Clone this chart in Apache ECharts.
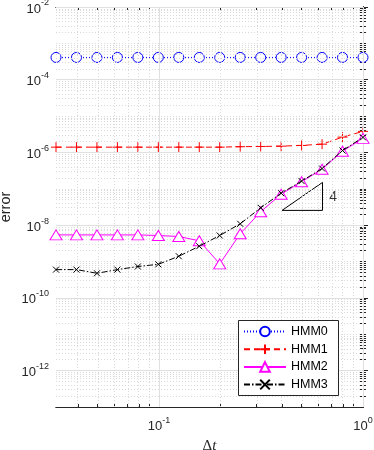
<!DOCTYPE html>
<html>
<head>
<meta charset="utf-8">
<script src="https://cdn.jsdelivr.net/npm/echarts@6/dist/echarts.min.js"></script>
<style>
  html, body { margin: 0; padding: 0; background: #fff; }
  #chart { width: 374px; height: 450px; }
</style>
</head>
<body>
<div id="chart"></div>
<script>
// time steps (dt = 2^(-k/3))
var dt = [0.03125, 0.03937, 0.04961, 0.0625, 0.07875, 0.09921, 0.125, 0.1575,
  0.1984, 0.25, 0.315, 0.3969, 0.5, 0.63, 0.7937, 1]
var hmm0 = [4.1e-4, 4.1e-4, 4.1e-4, 4.1e-4, 4.1e-4, 4.1e-4, 4.1e-4, 4.1e-4,
  4.1e-4, 4.1e-4, 4.1e-4, 4.1e-4, 4.1e-4, 4.1e-4, 4.1e-4, 4.1e-4]
var hmm1 = [1.40e-6, 1.40e-6, 1.40e-6, 1.40e-6, 1.40e-6, 1.40e-6, 1.40e-6, 1.40e-6,
  1.40e-6, 1.44e-6, 1.46e-6, 1.49e-6, 1.56e-6, 1.69e-6, 2.64e-6, 3.8e-6]
var hmm2 = [5.4e-9, 5.4e-9, 5.4e-9, 5.4e-9, 5.4e-9, 5.2e-9, 4.89e-9, 3.72e-9,
  8.65e-10, 5.8e-9, 2.35e-8, 7.1e-8, 1.56e-7, 3.46e-7, 1.08e-6, 2.44e-6]
var hmm3 = [6.0e-10, 6.0e-10, 4.76e-10, 6.0e-10, 7.3e-10, 8.4e-10, 1.40e-9, 2.64e-9,
  5.2e-9, 1.09e-8, 3.0e-8, 7.57e-8, 1.63e-7, 3.61e-7, 1.13e-6, 2.6e-6]
var seriesNames = ['HMM0', 'HMM1', 'HMM2', 'HMM3']
// slope triangle and its label
var slopeX = [0.401, 0.633, 0.633, 0.401]
var slopeY = [2.55e-8, 2.55e-8, 1.5e-7, 2.55e-8]
var slopeLabel = '4'
var slopeLabelPos = [0.714, 5.9e-8]
// axis ranges and labelled ticks (powers of ten)
var xRange = [0.03125, 1]
var yRange = [1e-13, 1e-2]
var xTickExp = [-1, 0]
var yTickExp = [-12, -10, -8, -6, -4, -2]

var FONT = 'Liberation Sans, Arial, Helvetica, sans-serif'
var AX = '#262626'
var lg = function (v) { return Math.log10(v) }

// open marker shapes (thin outline, white fill)
var CIRCLE = 'path://M10,5A5,5,0,1,1,0,5A5,5,0,1,1,10,5Z'
var TRIANGLE = 'path://M5,0L10,9L0,9Z'
var PLUS = 'path://M0,5L10,5M5,0L5,10'
var CROSS = 'path://M0,0L10,10M0,10L10,0'

function zip(xs, ys) {
  return xs.map(function (x, i) { return [lg(x), lg(ys[i])] })
}

function expLabel(v) {
  var e = Math.round(v)
  if (Math.abs(v - e) > 1e-6) return ''
  return '{b|10}{s|' + e + '}'
}

var labelRich = {
  b: { fontSize: 13, fontFamily: FONT, color: AX, padding: [4, 0, 0, 0] },
  s: { fontSize: 9, fontFamily: FONT, color: AX, verticalAlign: 'top' }
}

// log-scale grid / tick positions (in exponent units)
var lo = { x: lg(xRange[0]), y: lg(yRange[0]) }
var hi = { x: lg(xRange[1]), y: lg(yRange[1]) }
function decades(a, b) {
  var major = []
  var minor = []
  for (var d = Math.floor(a); d < Math.ceil(b) + 1; d++) {
    if (d >= a - 1e-9 && d <= b + 1e-9) major.push(d)
    for (var m = 2; m <= 9; m++) {
      var v = d + Math.log10(m)
      if (v > a + 1e-9 && v < b - 1e-9) minor.push(v)
    }
  }
  return { major: major, minor: minor }
}
var gx = decades(lo.x, hi.x)
var gy = decades(lo.y, hi.y)
// odd decades on y behave as minor lines
var yMinorAll = gy.minor.concat(gy.major.filter(function (e) { return yTickExp.indexOf(e) < 0 && e > lo.y && e < hi.y }))

var chart = echarts.init(document.getElementById('chart'), null, { renderer: 'canvas' })

function xAx(pos, ticks, len, extra) {
  return Object.assign({
    type: 'value',
    position: pos,
    min: lo.x,
    max: hi.x,
    axisLine: { show: true, lineStyle: { color: AX, width: 1 } },
    axisTick: { show: true, inside: true, length: len, customValues: ticks, lineStyle: { color: AX } },
    axisLabel: { show: false },
    splitLine: { show: false }
  }, extra || {})
}
function yAx(pos, ticks, len, extra) {
  return Object.assign({
    type: 'value',
    position: pos,
    min: lo.y,
    max: hi.y,
    axisLine: { show: true, lineStyle: { color: AX, width: 1 } },
    axisTick: { show: true, inside: true, length: len, customValues: ticks, lineStyle: { color: AX } },
    axisLabel: { show: false },
    splitLine: { show: false }
  }, extra || {})
}

var option = {
  animation: false,
  backgroundColor: '#fff',
  grid: { left: 56, right: 11, top: 7, bottom: 43, containLabel: false, outerBoundsMode: 'none' },
  // legend frame
  graphic: [{
    type: 'rect',
    z: 50,
    shape: { x: 238.5, y: 320.5, width: 100, height: 75 },
    style: { fill: '#fff', stroke: AX, lineWidth: 1 }
  }],
  legend: {
    data: seriesNames,
    orient: 'vertical',
    left: 238,
    top: 320,
    z: 60,
    padding: [5, 10, 6, 5],
    itemWidth: 42,
    itemHeight: 12,
    itemGap: 4.7,
    textStyle: { fontSize: 12.5, fontFamily: FONT, color: '#000' }
  },
  xAxis: [
    xAx('bottom', xTickExp, 5, {
      name: '{a|Δ}{b|t}',
      nameLocation: 'middle',
      nameGap: 32,
      nameMoveOverlap: false,
      nameTextStyle: {
        rich: {
          a: { fontSize: 15, fontFamily: 'Liberation Serif, serif', color: AX },
          b: { fontSize: 15, fontFamily: 'Liberation Serif, serif', fontStyle: 'italic', color: AX }
        }
      },
      axisLabel: {
        show: true,
        margin: 9,
        customValues: xTickExp,
        formatter: expLabel,
        rich: labelRich
      }
    }),
    xAx('top', xTickExp, 5),
    xAx('bottom', gx.minor, 3),
    xAx('top', gx.minor, 3)
  ],
  yAxis: [
    yAx('left', yTickExp, 5, {
      name: 'error',
      nameLocation: 'middle',
      nameGap: 43,
      nameMoveOverlap: false,
      nameTextStyle: { fontSize: 14.5, fontFamily: FONT, color: AX },
      axisLabel: {
        show: true,
        margin: 7,
        customValues: yTickExp,
        formatter: expLabel,
        rich: labelRich
      }
    }),
    yAx('right', yTickExp, 5),
    yAx('left', yMinorAll, 3),
    yAx('right', yMinorAll, 3)
  ],
  series: [
    {
      name: 'grid-major',
      type: 'line',
      data: [],
      silent: true,
      markLine: {
        silent: true,
        symbol: 'none',
        label: { show: false },
        lineStyle: { color: '#e0e0e0', type: 'solid', width: 1 },
        data: xTickExp.map(function (v) { return { xAxis: v } })
          .concat(yTickExp.map(function (v) { return { yAxis: v } }))
      }
    },
    {
      name: 'grid-minor',
      type: 'line',
      data: [],
      silent: true,
      markLine: {
        silent: true,
        symbol: 'none',
        label: { show: false },
        lineStyle: { color: '#dadada', type: [1, 2], width: 1 },
        data: gx.minor.map(function (v) { return { xAxis: v } })
          .concat(yMinorAll.map(function (v) { return { yAxis: v } }))
      }
    },
    {
      name: 'HMM0',
      type: 'line',
      data: zip(dt, hmm0),
      clip: false,
      symbol: CIRCLE,
      symbolSize: 10,
      itemStyle: { color: '#fff', borderColor: '#0000ff', borderWidth: 1 },
      lineStyle: { color: '#0000ff', width: 1, type: [1, 2] },
      z: 3
    },
    {
      name: 'HMM1',
      type: 'line',
      data: zip(dt, hmm1),
      clip: false,
      symbol: PLUS,
      symbolSize: 10,
      itemStyle: { color: '#ff0000', borderColor: '#ff0000', borderWidth: 1 },
      lineStyle: { color: '#ff0000', width: 1, type: [6, 4] },
      z: 4
    },
    {
      name: 'HMM2',
      type: 'line',
      data: zip(dt, hmm2),
      clip: false,
      symbol: TRIANGLE,
      symbolSize: [12, 10],
      itemStyle: { color: '#fff', borderColor: '#ff00ff', borderWidth: 1 },
      lineStyle: { color: '#ff00ff', width: 1, type: 'solid' },
      z: 5
    },
    {
      name: 'HMM3',
      type: 'line',
      data: zip(dt, hmm3),
      clip: false,
      symbol: CROSS,
      symbolSize: 6,
      itemStyle: { color: '#000000', borderColor: '#000000', borderWidth: 1 },
      lineStyle: { color: '#000000', width: 1, type: [6, 2, 1.5, 2] },
      z: 6
    },
    {
      name: 'slope',
      type: 'line',
      data: zip(slopeX, slopeY),
      symbol: 'none',
      silent: true,
      lineStyle: { color: '#000', width: 1, type: 'solid' },
      z: 2
    },
    {
      name: 'slopeLabel',
      type: 'scatter',
      data: [[lg(slopeLabelPos[0]), lg(slopeLabelPos[1])]],
      symbolSize: 0,
      silent: true,
      label: {
        show: true,
        position: 'inside',
        formatter: slopeLabel,
        fontSize: 14,
        fontFamily: FONT,
        color: '#000'
      }
    }
  ]
}

chart.setOption(option)
</script>
</body>
</html>
